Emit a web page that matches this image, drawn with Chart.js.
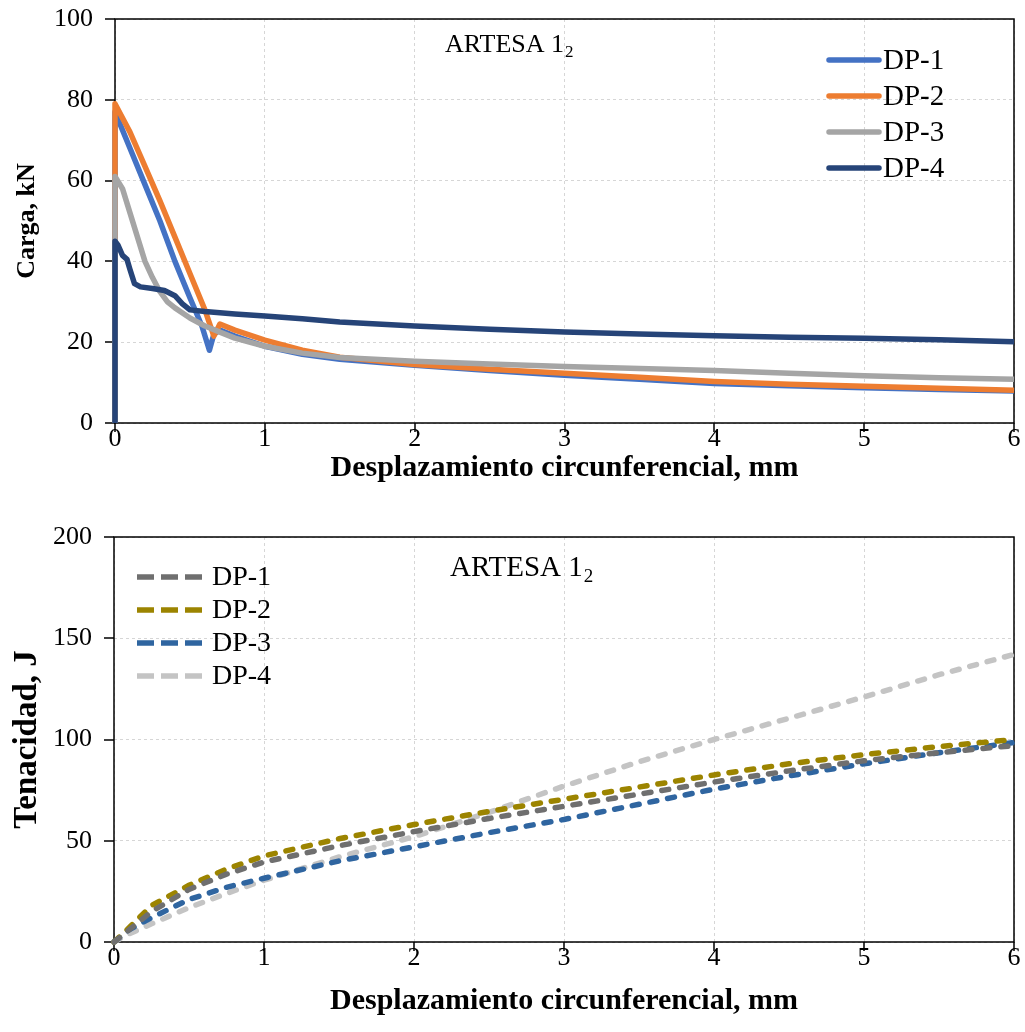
<!DOCTYPE html>
<html>
<head>
<meta charset="utf-8">
<script src="https://cdn.jsdelivr.net/npm/chart.js@4.4.1/dist/chart.umd.min.js"></script>
<style>
  html, body { margin: 0; padding: 0; background: #fff; }
  #wrap { position: relative; width: 1025px; height: 1032px; }
  canvas { position: absolute; left: 0; }
</style>
</head>
<body>
<div id="wrap">
  <canvas id="cargaChart" width="1025" height="495" style="top:0"></canvas>
  <canvas id="tenacidadChart" width="1025" height="537" style="top:495px"></canvas>
</div>
<script>
// --- data: [desplazamiento mm, valor] ---
const seriesLabels = ['DP-1', 'DP-2', 'DP-3', 'DP-4'];

// Carga, kN
const cargaDP1 = [[0,0],[0,77],[0.1,68],[0.2,59],[0.3,50],[0.4,40],[0.5,31],[0.58,24],[0.63,18],[0.66,22],[0.7,23],[0.8,21.5],[1,19],[1.25,17],[1.5,15.8],[2,14.3],[2.5,13],[3,11.8],[3.5,10.8],[4,9.8],[4.5,9.2],[5,8.7],[5.5,8.3],[6,7.9]];
const cargaDP2 = [[0,0],[0,79],[0.1,72],[0.2,63.5],[0.3,55],[0.4,46],[0.5,37],[0.6,28],[0.66,21.5],[0.7,24.5],[0.8,23],[1,20.5],[1.25,18],[1.5,16.3],[2,14.5],[2.5,13.3],[3,12.3],[3.5,11.3],[4,10.3],[4.5,9.6],[5,9.1],[5.5,8.6],[6,8.1]];
const cargaDP3 = [[0,0],[0,61],[0.05,58],[0.1,52],[0.15,46],[0.2,40],[0.25,36],[0.3,32.5],[0.35,30],[0.4,28.5],[0.5,26],[0.6,24],[0.7,22.5],[0.8,21],[1,19],[1.25,17.3],[1.5,16.2],[2,15.3],[2.5,14.6],[3,14],[3.5,13.5],[4,13],[4.5,12.3],[5,11.7],[5.5,11.2],[6,10.8]];
const cargaDP4 = [[0,0],[0,45],[0.02,44],[0.05,41.5],[0.08,40.5],[0.1,38],[0.13,34.5],[0.17,33.7],[0.25,33.3],[0.33,32.8],[0.4,31.5],[0.45,29.5],[0.5,28],[0.6,27.6],[0.8,27],[1,26.5],[1.25,25.8],[1.5,25],[2,24],[2.5,23.2],[3,22.5],[3.5,22],[4,21.6],[4.5,21.2],[5,21],[5.5,20.6],[6,20.1]];

// Tenacidad, J
const tenacDP1 = [[0,0],[0.1,6],[0.25,15],[0.5,26],[0.75,33.5],[1,39.5],[1.5,47.5],[2,54.5],[2.5,61],[3,67],[3.5,73],[4,79],[4.5,84.5],[5,89.5],[5.5,93.5],[6,97]];
const tenacDP2 = [[0,0],[0.1,7],[0.25,18],[0.5,28],[0.75,36],[1,42.5],[1.5,51],[2,58],[2.5,64.5],[3,70.5],[3.5,76.5],[4,82.5],[4.5,88],[5,92.5],[5.5,96.5],[6,100]];
const tenacDP3 = [[0,0],[0.1,6],[0.25,12],[0.5,21],[0.75,27],[1,31.5],[1.5,40],[2,47],[2.5,54],[3,60.5],[3.5,68],[4,75.5],[4.5,82],[5,88],[5.5,93.5],[6,98.5]];
const tenacDP4 = [[0,0],[0.1,4],[0.25,9],[0.5,17],[0.75,24],[1,30.5],[1.5,42],[2,52],[2.5,64],[3,77],[3.5,89],[4,100],[4.5,110.5],[5,121],[5.5,132],[6,142]];

const SERIF = "'Liberation Serif', 'Times New Roman', Times, serif";
const cargaColors = ['#4472C4', '#ED7D31', '#A5A5A5', '#264478'];
const tenacColors = ['#6F6F6F', '#9C8400', '#2F65A0', '#C4C4C4'];

const toXY = (arr) => arr.map(p => ({ x: p[0], y: p[1] }));

// frame, outside tick marks, inner legend and "ARTESA 1_2" caption
const decorPlugin = {
    id: 'decor',
    beforeDatasetsDraw: function (chart) {
        const a = chart.chartArea;
        const ctx = chart.ctx;
        ctx.save();
        ctx.strokeStyle = '#000';
        ctx.lineWidth = 1.5;
        ctx.strokeRect(a.left, a.top, a.right - a.left, a.bottom - a.top);

        // tick marks
        ctx.beginPath();
        chart.scales.x.ticks.forEach(function (t) {
            const px = Math.round(chart.scales.x.getPixelForValue(t.value));
            ctx.moveTo(px, a.bottom);
            ctx.lineTo(px, a.bottom + 9);
        });
        chart.scales.y.ticks.forEach(function (t) {
            const py = Math.round(chart.scales.y.getPixelForValue(t.value));
            ctx.moveTo(a.left - 10, py);
            ctx.lineTo(a.left, py);
        });
        ctx.stroke();
        ctx.restore();
    },
    afterDatasetsDraw: function (chart, args, opts) {
        const ctx = chart.ctx;
        ctx.save();
        // caption
        ctx.fillStyle = '#000';
        ctx.textBaseline = 'middle';
        ctx.textAlign = 'left';
        ctx.font = opts.capSize + 'px ' + SERIF;
        const main = 'ARTESA 1';
        ctx.fillText(main, opts.capX, opts.capY);
        const w = ctx.measureText(main).width;
        ctx.font = Math.round(opts.capSize * 0.65) + 'px ' + SERIF;
        ctx.fillText('2', opts.capX + w + 1, opts.capY + opts.capSize * 0.3);

        // legend
        chart.data.datasets.forEach(function (ds, i) {
            const y = opts.legY + i * opts.legGap;
            ctx.beginPath();
            ctx.strokeStyle = ds.borderColor;
            ctx.lineWidth = 5.5;
            ctx.lineCap = opts.dashed ? 'butt' : 'round';
            if (opts.dashed) {
                ctx.setLineDash([17, 7]);
            } else {
                ctx.setLineDash([]);
            }
            ctx.moveTo(opts.legX, y);
            ctx.lineTo(opts.legX + opts.legW, y);
            ctx.stroke();
            ctx.setLineDash([]);
            ctx.fillStyle = '#000';
            ctx.font = opts.legSize + 'px ' + SERIF;
            ctx.fillText(ds.label, opts.legX + opts.legW + 4, y + 1);
        });
        ctx.restore();
    }
};

function axisX(height, titlePad) {
    return {
        type: 'linear',
        min: 0,
        max: 6,
        afterFit: function (s) {
            s.height = height;
            s.paddingLeft = 0;
            s.paddingRight = 0;
        },
        border: { display: false, dash: [3, 3] },
        grid: { color: '#d6d6d6', drawTicks: false },
        ticks: { stepSize: 1, color: '#000', padding: 3, font: { family: SERIF, size: 26, lineHeight: 1 } },
        title: {
            display: true,
            text: 'Desplazamiento circunferencial, mm',
            color: '#000',
            font: { family: SERIF, size: 30, weight: 'bold', lineHeight: 1.2 },
            padding: { top: 0, bottom: titlePad }
        }
    };
}

function axisY(width, max, step, text, size, titlePad) {
    return {
        min: 0,
        max: max,
        afterFit: function (s) {
            s.width = width;
            s.paddingTop = 0;
            s.paddingBottom = 0;
        },
        border: { display: false, dash: [3, 3] },
        grid: { color: '#d6d6d6', drawTicks: false },
        ticks: { stepSize: step, color: '#000', padding: 22, font: { family: SERIF, size: 26 } },
        title: {
            display: true,
            text: text,
            color: '#000',
            font: { family: SERIF, size: size, weight: 'bold', lineHeight: 1.2 },
            padding: { top: titlePad, bottom: 0 }
        }
    };
}

// --- Carga ---
const cargaData = [cargaDP1, cargaDP2, cargaDP3, cargaDP4];
new Chart(document.getElementById('cargaChart'), {
    type: 'line',
    data: {
        datasets: cargaData.map(function (d, i) {
            return {
                label: seriesLabels[i],
                data: toXY(d),
                borderColor: cargaColors[i],
                borderWidth: 5.5,
                borderJoinStyle: 'round',
                pointRadius: 0,
                tension: 0,
                clip: false,
                order: 4 - i
            };
        })
    },
    options: {
        responsive: false,
        animation: false,
        layout: { padding: { left: 0, top: 19, right: 11, bottom: 0 } },
        plugins: {
            legend: { display: false },
            tooltip: { enabled: false },
            decor: { capX: 445, capY: 45, capSize: 26, legX: 829, legY: 60, legGap: 36, legW: 50, legSize: 29, dashed: false }
        },
        scales: {
            x: axisX(72, 9),
            y: axisY(115, 100, 20, 'Carga, kN', 26, 12)
        }
    },
    plugins: [decorPlugin]
});

// --- Tenacidad ---
const tenacData = [tenacDP1, tenacDP2, tenacDP3, tenacDP4];
new Chart(document.getElementById('tenacidadChart'), {
    type: 'line',
    data: {
        datasets: tenacData.map(function (d, i) {
            return {
                label: seriesLabels[i],
                data: toXY(d),
                borderColor: tenacColors[i],
                borderWidth: 5.5,
                borderDash: [7, 11],
                borderCapStyle: 'round',
                pointRadius: 0,
                tension: 0,
                clip: false
            };
        })
    },
    options: {
        responsive: false,
        animation: false,
        layout: { padding: { left: 0, top: 42, right: 11, bottom: 0 } },
        plugins: {
            legend: { display: false },
            tooltip: { enabled: false },
            decor: { capX: 450, capY: 73, capSize: 29, legX: 137, legY: 82, legGap: 33, legW: 71, legSize: 28, dashed: true }
        },
        scales: {
            x: axisX(90, 13),
            y: axisY(114, 200, 50, 'Tenacidad, J', 33, 8)
        }
    },
    plugins: [decorPlugin]
});
</script>
</body>
</html>
